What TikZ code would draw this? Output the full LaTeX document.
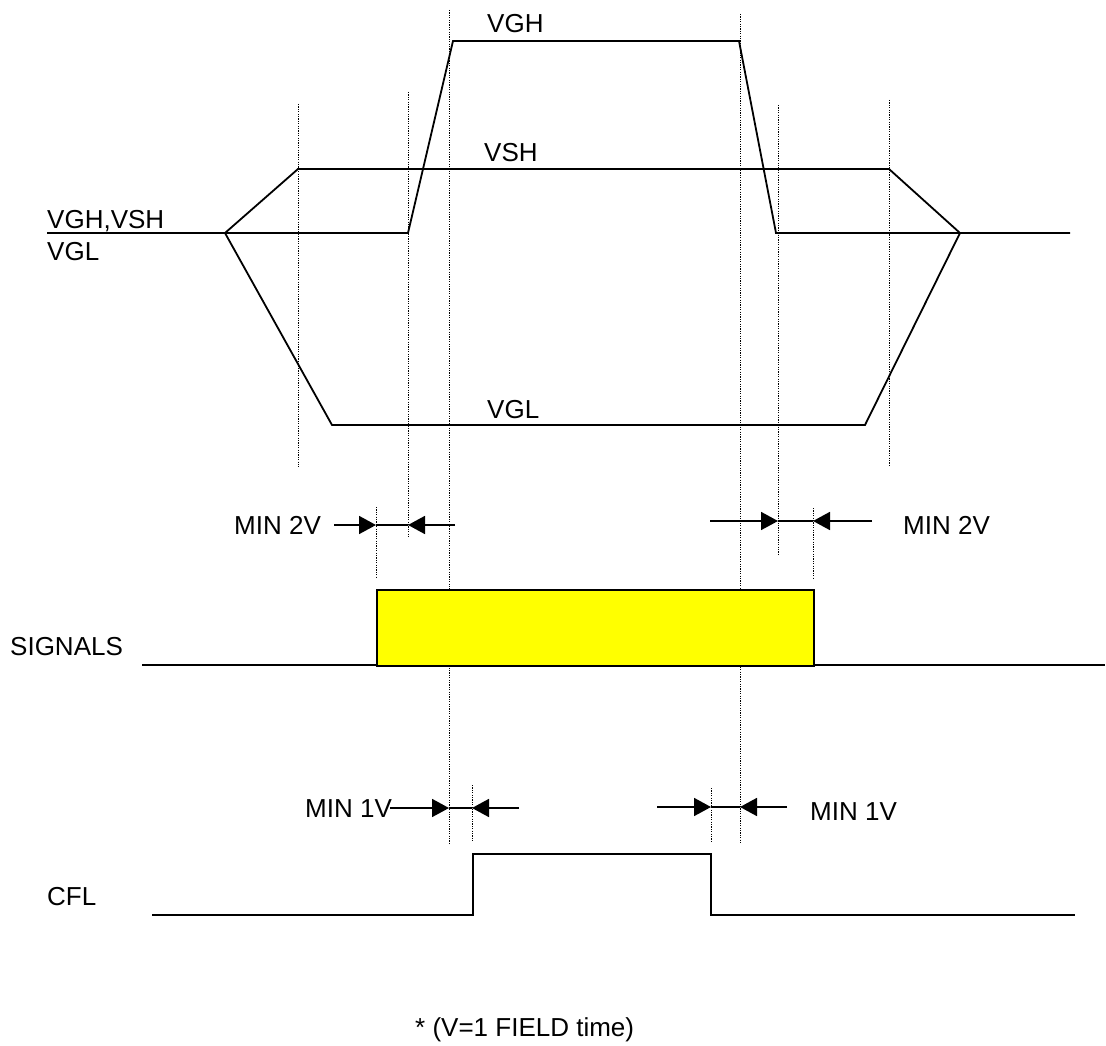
\documentclass[tikz,border=0pt]{standalone}
\usepackage{fontspec}
\setmainfont{Liberation Sans}
\usetikzlibrary{arrows.meta}
\definecolor{sigyellow}{RGB}{255,255,0}
\begin{document}
\begin{tikzpicture}[x=1pt,y=-1pt,
  wave/.style={line width=1.8pt,line join=miter},
  guide/.style={line width=1pt,dash pattern=on 1.2pt off 1.2pt},
  lbl/.style={anchor=base west,inner sep=0pt,font=\fontsize{26}{30}\selectfont},
  dimarr/.style={line width=1.8pt,-{Triangle[length=17pt,width=18pt]}},
  dimline/.style={line width=1.8pt}]
\useasboundingbox (0,0) rectangle (1106,1046);
% guides
\draw[guide] (298,104) -- (298,467);
\draw[guide] (408,92) -- (408,538);
\draw[guide] (449,10) -- (449,843);
\draw[guide] (740,14) -- (740,843);
\draw[guide] (778,105) -- (778,554);
\draw[guide] (889,100) -- (889,465);
\draw[guide] (376,507) -- (376,578);
\draw[guide] (813,508) -- (813,579);
\draw[guide] (472,785) -- (472,841);
\draw[guide] (711,788) -- (711,843);
% main waveforms
\coordinate (L0) at (47,233);
\coordinate (S0) at (225,233);
\coordinate (S1) at (298,169);
\coordinate (S2) at (889,169);
\coordinate (S3) at (960,233);
\coordinate (R0) at (1070,233);
\coordinate (G0) at (408,233);
\coordinate (G1) at (453,41);
\coordinate (G2) at (739,41);
\coordinate (G3) at (776,233);
\coordinate (N1) at (332,425);
\coordinate (N2) at (865,425);
\draw[wave] (L0) -- (S0) -- (G0) -- (G1) -- (G2) -- (G3) -- (S3) -- (R0);
\draw[wave] (S0) -- (S1) -- (S2) -- (S3);
\draw[wave] (S0) -- (N1) -- (N2) -- (S3);
% signals
\coordinate (Y0) at (142,665);
\coordinate (Y1) at (1105,665);
\draw[wave] (Y0) -- (376,665);
\draw[wave] (813,665) -- (Y1);
\node[draw=black,line width=1.8pt,fill=sigyellow,minimum width=437pt,minimum height=76pt,inner sep=0pt,anchor=north west] (box) at (376,589) {};
% CFL
\coordinate (C0) at (152,915);
\coordinate (C1) at (473,915);
\coordinate (C2) at (473,854);
\coordinate (C3) at (711,854);
\coordinate (C4) at (711,915);
\coordinate (C5) at (1075,915);
\draw[wave] (C0) -- (C1) -- (C2) -- (C3) -- (C4) -- (C5);
% dimension arrows MIN 2V left
\coordinate (a1) at (334,525);
\coordinate (a2) at (376,525);
\coordinate (a3) at (408,525);
\coordinate (a4) at (455,525);
\draw[dimarr] (a1) -- (a2);
\draw[dimline] (a2) -- (a3);
\draw[dimarr] (a4) -- (a3);
% MIN 2V right
\coordinate (b1) at (710,521);
\coordinate (b2) at (778,521);
\coordinate (b3) at (813,521);
\coordinate (b4) at (872,521);
\draw[dimarr] (b1) -- (b2);
\draw[dimline] (b2) -- (b3);
\draw[dimarr] (b4) -- (b3);
% MIN 1V left
\coordinate (c1) at (390,808);
\coordinate (c2) at (449,808);
\coordinate (c3) at (472,808);
\coordinate (c4) at (519,808);
\draw[dimarr] (c1) -- (c2);
\draw[dimline] (c2) -- (c3);
\draw[dimarr] (c4) -- (c3);
% MIN 1V right
\coordinate (d1) at (657,807);
\coordinate (d2) at (711,807);
\coordinate (d3) at (740,807);
\coordinate (d4) at (787,807);
\draw[dimarr] (d1) -- (d2);
\draw[dimline] (d2) -- (d3);
\draw[dimarr] (d4) -- (d3);
% labels
\node[lbl] (tVGH) at (487,33) {VGH};
\node[lbl] (tVSH) at (484,161) {VSH};
\node[lbl] (tVGL) at (487,418) {VGL};
\node[lbl] (tVGHVSH) at (47,228) {VGH,VSH};
\node[lbl] (tVGLl) at (47,260) {VGL};
\node[lbl] (tSIG) at (10,655) {SIGNALS};
\node[lbl] (tM2a) at (234,534) {MIN 2V};
\node[lbl] (tM2b) at (903,534) {MIN 2V};
\node[lbl] (tM1a) at (305,817) {MIN 1V};
\node[lbl] (tM1b) at (810,820) {MIN 1V};
\node[lbl] (tCFL) at (47,905) {CFL};
\node[lbl] (tnote) at (415,1036) {* (V=1 FIELD time)};
\end{tikzpicture}
\end{document}
